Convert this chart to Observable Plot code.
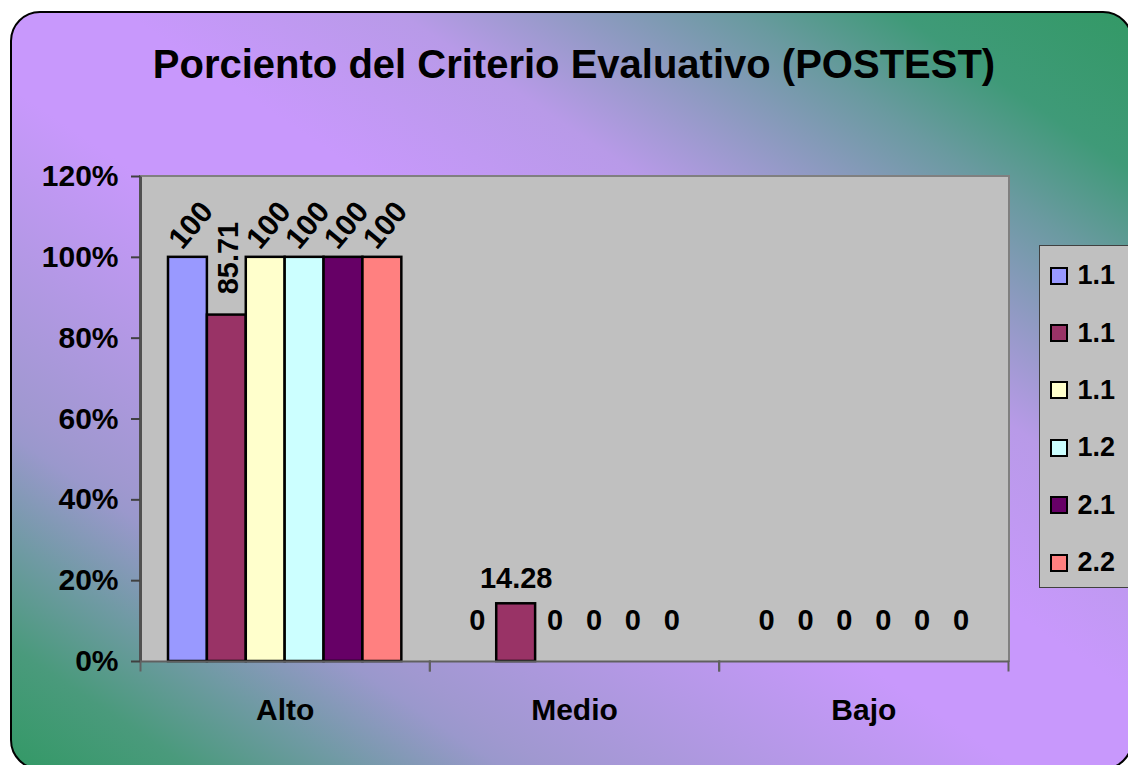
<!DOCTYPE html>
<html>
<head>
<meta charset="utf-8">
<script src="https://cdn.jsdelivr.net/npm/d3@7"></script>
<script src="https://cdn.jsdelivr.net/npm/@observablehq/plot@0.6"></script>
<style>
html, body { margin: 0; padding: 0; width: 1128px; height: 765px; overflow: hidden; background: #fff;
  font-family: "Liberation Sans", Arial, sans-serif; }
#chart { position: relative; width: 1128px; height: 765px; overflow: hidden; }
#bg { position: absolute; left: 10px; top: 11px; width: 1123px; height: 759px; box-sizing: border-box;
  border: 2.5px solid #000; border-radius: 30px;
  background: linear-gradient(to bottom left,
    #339966 0%, #3f9a78 10.4%, #6a9aa0 17.6%, #b89ae8 32.7%, #c898fc 45%, #c898fc 55%,
    #a098d0 76%, #9a98cc 78%, #709aa4 85%, #4a9a7c 92%, #339966 100%); }
#plotbg { position: absolute; left: 139px; top: 175px; width: 871px; height: 487px; box-sizing: border-box;
  background: #c0c0c0; border-top: 2px solid #808080; border-right: 2px solid #808080; border-left: 3px solid #505050; }
#title { position: absolute; left: 0; width: 1148px; top: 44px; text-align: center; font-size: 40px;
  font-weight: bold; line-height: 40px; white-space: nowrap; color: #000; }
#plot { position: absolute; left: 0; top: 0; }
#legend { position: absolute; left: 1039px; top: 245px; width: 110px; height: 343px; box-sizing: border-box;
  background: #c0c0c0; border: 1.5px solid #404040; padding-top: 1px; }
.item { height: 57.4px; display: flex; align-items: center; }
.sw { width: 18px; height: 18px; box-sizing: border-box; border: 2.5px solid #000; margin-left: 9.5px; margin-right: 10px; }
.lab { font-size: 27px; font-weight: bold; color: #000; }
</style>
</head>
<body>
<div id="chart">
  <div id="bg"></div>
  <div id="plotbg"></div>
  <div id="title">Porciento del Criterio Evaluativo (POSTEST)</div>
  <div id="plot"></div>
  <div id="legend"></div>
</div>
<script>
const FONT = "Liberation Sans, Arial, sans-serif";

const categories = ["Alto", "Medio", "Bajo"];
const seriesKeys = ["s1", "s2", "s3", "s4", "s5", "s6"];
const seriesNames = ["1.1", "1.1", "1.1", "1.2", "2.1", "2.2"];
const seriesColors = ["#9999FF", "#993366", "#FFFFCC", "#CCFFFF", "#660066", "#FF8080"];

// values per series (Alto, Medio, Bajo), in percent
const s1 = [100, 0, 0];
const s2 = [85.71, 14.28, 0];
const s3 = [100, 0, 0];
const s4 = [100, 0, 0];
const s5 = [100, 0, 0];
const s6 = [100, 0, 0];
const seriesValues = [s1, s2, s3, s4, s5, s6];

const yTicks = [0, 0.2, 0.4, 0.6, 0.8, 1.0, 1.2];

const rows = seriesKeys.flatMap((key, i) =>
  categories.map((category, j) => ({
    key, name: seriesNames[i], category,
    value: seriesValues[i][j] / 100,
    label: String(seriesValues[i][j])
  }))
);

const labelStyle = { fx: "category", x: "key", y: "value", text: "label",
  fontSize: 29, fontWeight: "bold", fill: "#000", fontFamily: FONT };

const chart = Plot.plot({
  width: 1128, height: 765,
  marginLeft: 140, marginRight: 120, marginTop: 176, marginBottom: 104,
  style: { background: "transparent", fontFamily: FONT, overflow: "visible" },
  fx: { domain: categories, padding: 0, round: false },
  x: { domain: seriesKeys, paddingInner: 0, paddingOuter: 0.72, round: false, axis: null },
  y: { domain: [0, 1.2] },
  color: { domain: seriesKeys, range: seriesColors },
  marks: [
    Plot.barY(rows, { filter: d => d.value > 0, fx: "category", x: "key", y: "value",
      fill: "key", stroke: "#000", strokeWidth: 2.5 }),
    Plot.ruleY([0], { stroke: "#606060", strokeWidth: 2 }),
    Plot.frame({ anchor: "left", insetTop: 485, insetBottom: -9, stroke: "#606060", strokeWidth: 2 }),
    Plot.frame({ anchor: "right", insetTop: 485, insetBottom: -9, stroke: "#606060", strokeWidth: 2 }),
    Plot.axisY({ ticks: yTicks, tickFormat: "%", tickSize: 9, tickPadding: 13, fontSize: 30,
      fontWeight: "bold", stroke: "#404040", strokeWidth: 2, fill: "#000", label: null, fontFamily: FONT }),
    Plot.axisFx({ anchor: "bottom", tickSize: 0, tickPadding: 37, fontSize: 30, fontWeight: "bold",
      fill: "#000", label: null, fontFamily: FONT }),
    Plot.text(rows, { ...labelStyle, filter: d => d.category === "Alto" && d.key !== "s2",
      rotate: -50, dx: 3, dy: -32, fontSize: 30 }),
    Plot.text(rows, { ...labelStyle, filter: d => d.category === "Alto" && d.key === "s2",
      rotate: -90, dx: 2, dy: -57 }),
    Plot.text(rows, { ...labelStyle, filter: d => d.category !== "Alto" && d.value > 0, dy: -25 }),
    Plot.text(rows, { ...labelStyle, filter: d => d.category !== "Alto" && d.value === 0, dy: -41 })
  ]
});
document.getElementById("plot").appendChild(chart);

// Legend built from the plot's own color scale
const color = chart.scale("color");
const legend = d3.select("#legend");
seriesKeys.forEach((key, i) => {
  const item = legend.append("div").attr("class", "item");
  item.append("div").attr("class", "sw").style("background", color.apply(key));
  item.append("div").attr("class", "lab").text(seriesNames[i]);
});
</script>
</body>
</html>
